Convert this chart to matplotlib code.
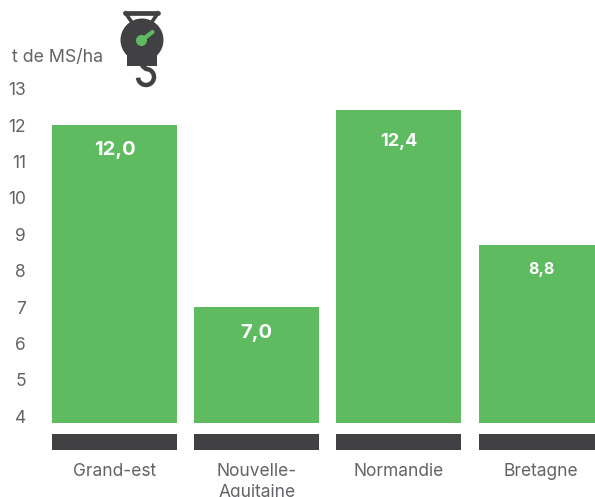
import matplotlib
matplotlib.use("Agg")
import matplotlib.pyplot as plt
from matplotlib.patches import Circle, Rectangle, Arc

regions = ["Grand-est", "Nouvelle-\nAquitaine", "Normandie", "Bretagne"]
bar_values = [12.0, 7.0, 12.4, 8.7]
value_labels = ["12,0", "7,0", "12,4", "8,8"]
y_ticks = [4, 5, 6, 7, 8, 9, 10, 11, 12, 13]
unit = "t de MS/ha"

W, H = 595, 497
GREEN, DARK, TEXT = "#5FBB60", "#414042", "#626366"
plt.rcParams["font.family"] = ["Inter", "DejaVu Sans"]

fig = plt.figure(figsize=(W / 100, H / 100), dpi=100, facecolor="white")

def axes_px(x0, y0, x1, y1, **kw):
    return fig.add_axes([x0 / W, 1 - y1 / H, (x1 - x0) / W, (y1 - y0) / H], **kw)

sx, cx0 = 142.2, 114.5
left, right = 40, 595
xlim = ((left - cx0) / sx, (right - cx0) / sx)
sy = 36.4
val = lambda py: 12.0 + (125 - py) / sy

ax = axes_px(left, 80, right, 423)
ax.set_xlim(xlim)
ax.set_ylim(val(423), val(80))
xs = list(range(len(regions)))
ax.bar(xs, bar_values, width=125 / sx, color=GREEN, bottom=0)
label_style = [(14.5, -25), (14.5, -26), (13, -31), (11.5, -24)]
for x, v, s, (fs, dy) in zip(xs, bar_values, value_labels, label_style):
    ax.annotate(s, (x, v), xytext=(0, dy), textcoords="offset pixels",
                ha="center", va="center", color="white", fontweight="bold", fontsize=fs)
ax.set_yticks(y_ticks)
ax.set_yticklabels([str(t) for t in y_ticks], color=TEXT, fontsize=12.5, va="center_baseline")
ax.tick_params(axis="y", length=0, pad=10)
ax.set_xticks([])
for s in ax.spines.values():
    s.set_visible(False)
ax.patch.set_visible(False)

ax2 = axes_px(left, 434, right, 450)
ax2.set_xlim(xlim)
ax2.set_ylim(0, 1)
ax2.bar(xs, [1] * len(xs), width=125 / sx, color=DARK)
ax2.set_yticks([])
ax2.set_xticks(xs)
ax2.set_xticklabels(regions, color=TEXT, fontsize=12.5, linespacing=1.35)
ax2.tick_params(axis="x", length=0, pad=9)
for s in ax2.spines.values():
    s.set_visible(False)
ax2.patch.set_visible(False)

ov = axes_px(0, 0, W, H)
ov.set_xlim(0, W)
ov.set_ylim(H, 0)
ov.axis("off")
ov.text(12, 57.5, unit, color=TEXT, fontsize=12.8, ha="left", va="center")
ov.add_patch(Circle((142, 40), 21.5, color=DARK, lw=0))
ov.add_patch(Rectangle((127, 45), 30, 21, color=DARK, lw=0))
ov.plot([125, 158], [13, 13], color=DARK, lw=3.4, solid_capstyle="round")
ov.plot([125.5, 133, 150.5, 158], [13, 24, 24, 13], color=DARK, lw=2.6, solid_joinstyle="round")
ov.add_patch(Arc((146, 77), 16, 16, theta1=-90, theta2=175, color=DARK, lw=3.2))
ov.plot([142.5, 146], [66, 69], color=DARK, lw=3.2, solid_capstyle="round")
ov.add_patch(Circle((141.5, 40.5), 5.5, color=GREEN, lw=0))
ov.plot([142, 152.5], [40, 32], color=GREEN, lw=3, solid_capstyle="round")

fig.savefig("out.png", dpi=100)
